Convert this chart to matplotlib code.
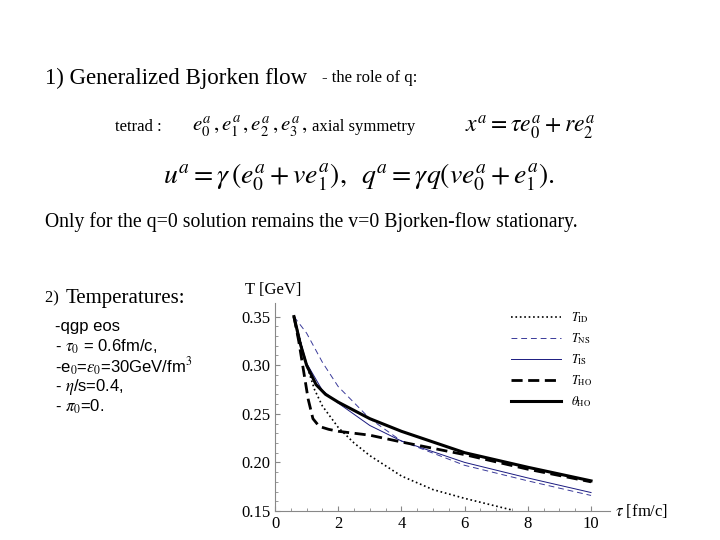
import matplotlib
matplotlib.use("Agg")
import matplotlib.pyplot as plt

plt.rcParams['font.family'] = ['Liberation Serif', 'DejaVu Serif']
plt.rcParams['mathtext.fontset'] = 'stix'

t_id = [0.6, 0.8, 1.0, 1.25, 1.5, 2, 2.5, 3, 4, 5, 6, 7, 7.5]
v_id = [0.35, 0.325, 0.30, 0.275, 0.258, 0.236, 0.22, 0.207, 0.186, 0.172, 0.163, 0.155, 0.151]
t_ns = [0.6, 1.0, 1.5, 2, 3, 4, 6, 8, 10]
v_ns = [0.35, 0.333, 0.303, 0.278, 0.245, 0.222, 0.197, 0.181, 0.166]
t_is = [0.6, 0.8, 1.0, 1.5, 2, 3, 4, 6, 8, 10]
v_is = [0.35, 0.325, 0.302, 0.274, 0.261, 0.238, 0.222, 0.200, 0.184, 0.169]
t_ho = [0.6, 0.75, 0.9, 1.05, 1.2, 1.4, 1.7, 2, 3, 4, 6, 8, 10]
v_ho = [0.35, 0.325, 0.295, 0.265, 0.245, 0.237, 0.234, 0.232, 0.228, 0.221, 0.208, 0.193, 0.180]
t_th = [0.6, 0.8, 1.0, 1.3, 1.6, 2, 3, 4, 6, 8, 10]
v_th = [0.35, 0.322, 0.300, 0.280, 0.270, 0.262, 0.245, 0.232, 0.210, 0.195, 0.181]

fig = plt.figure(figsize=(7.2, 5.4), dpi=100)
fig.text(45/720, 1-78/540, "1) Generalized Bjorken flow", fontsize=16.5, va='center')
fig.text(322/720, 1-78/540, "- the role of q:", fontsize=12, va='center')
fig.text(115/720, 1-127/540, "tetrad :", fontsize=12, va='center')
fig.text(192/720, 1-127/540, r"$e_0^a\,, e_1^a\,, e_2^a\,, e_3^a\,,$", fontsize=15, va='center')
fig.text(312/720, 1-127/540, "axial symmetry", fontsize=12, va='center')
fig.text(465/720, 1-127/540, r"$x^a = \tau e_0^a + r e_2^a$", fontsize=17, va='center')
fig.text(163/720, 1-177/540, r"$u^a = \gamma\,(e_0^a + v e_1^a),\;\; q^a = \gamma q(v e_0^a + e_1^a).$", fontsize=20, va='center')
fig.text(45/720, 1-222/540, "Only for the q=0 solution remains the v=0 Bjorken-flow stationary.", fontsize=14.2, va='center')
fig.text(45/720, 1-298/540, "2) ", fontsize=12, va='center')
fig.text(66/720, 1-298/540, "Temperatures:", fontsize=15, va='center')
lines = ["-qgp eos", r"- $\tau_0$ = 0.6fm/c,", r"-e$_0$=$\varepsilon_0$=30GeV/fm$^3$",
         r"- $\eta$/s=0.4,", r"- $\pi_0$=0."]
for i, s in enumerate(lines):
    fig.text(55/720, 1-(327+20*i)/540, s, fontsize=12, va='center', family=['Liberation Sans', 'DejaVu Sans'])

ax = fig.add_axes([275/720, 1-511/540, 335/720, 208/540])
ax.plot(t_id, v_id, color='black', ls=':', lw=1.2, label=r'$T_{\rm ID}$')
ax.plot(t_ns, v_ns, color='#3a3a9a', ls=(0, (6, 4)), lw=0.7, label=r'$T_{\rm NS}$')
ax.plot(t_is, v_is, color='#1a1a80', ls='-', lw=0.7, label=r'$T_{\rm IS}$')
ax.plot(t_ho, v_ho, color='black', ls=(0, (4, 2)), lw=2.0, label=r'$T_{\rm HO}$')
ax.plot(t_th, v_th, color='black', ls='-', lw=2.2, label=r'$\theta_{\rm HO}$')
ax.set_xlim(0, 10.6)
ax.set_ylim(0.15, 0.364)
ax.set_xticks([0, 2, 4, 6, 8, 10])
ax.set_yticks([0.15, 0.20, 0.25, 0.30, 0.35])
ax.set_yticklabels(['0.15', '0.20', '0.25', '0.30', '0.35'])
ax.set_xticks([0.5*i for i in range(21)], minor=True)
ax.set_yticks([0.15+0.01*i for i in range(21)], minor=True)
for s in ['top', 'right']:
    ax.spines[s].set_visible(False)
ax.spines['left'].set_color('#888888')
ax.spines['bottom'].set_color('#888888')
ax.tick_params(which='both', direction='in', labelsize=12, color='#888888')
ax.tick_params(which='minor', length=2)
ax.legend(loc='upper right', bbox_to_anchor=(0.98, 1.02), frameon=False, fontsize=9, handlelength=4, labelspacing=0.5)
fig.text(245/720, 1-290/540, "T [GeV]", fontsize=12, va='center')
fig.text(615/720, 1-511/540, r"$\tau$ [fm/c]", fontsize=12, va='center')
fig.savefig("out.png", dpi=100)
